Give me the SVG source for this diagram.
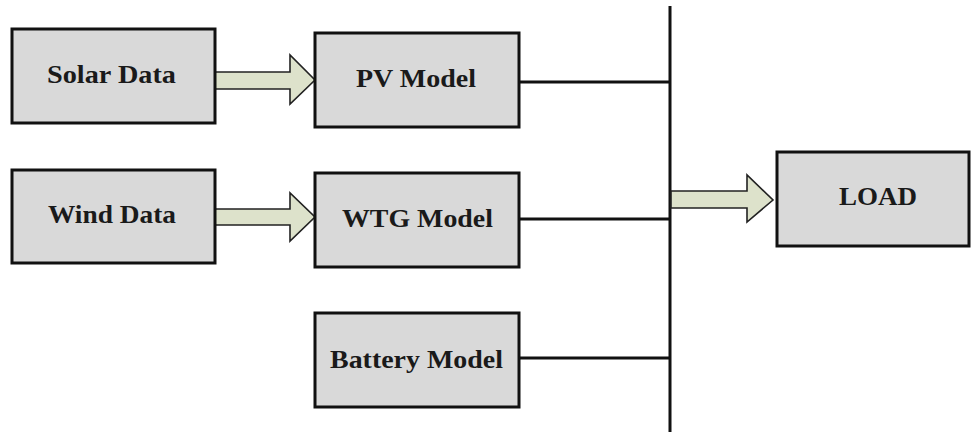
<svg xmlns="http://www.w3.org/2000/svg" width="971" height="432" viewBox="0 0 971 432">
<style>
.box{fill:#d9d9d9;stroke:#111;stroke-width:3}
.lbl{font-family:"Liberation Serif","Times New Roman",serif;font-weight:bold;font-size:26px;fill:#1a1a1a}
.arr{fill:#dde2cb;stroke:#222;stroke-width:1.6;stroke-linejoin:miter}
.wire{stroke:#111;stroke-width:3;fill:none}
</style>
<rect width="971" height="432" fill="#fff"/>
<g id="connectors">
<line class="wire" x1="670" y1="6" x2="670" y2="432"/>
<line class="wire" x1="519" y1="82" x2="670" y2="82"/>
<line class="wire" x1="519" y1="219" x2="670" y2="219"/>
<line class="wire" x1="519" y1="358" x2="670" y2="358"/>
<polygon class="arr" points="215,72 290,72 290,55 315,80 290,104 290,89 215,89"/>
<polygon class="arr" points="215,209 290,209 290,193 315,217 290,241 290,225 215,225"/>
<polygon class="arr" points="671,191 747,191 747,175 773,200 747,222 747,208 671,208"/>
</g>
<g id="solar"><rect class="box" x="12" y="29" width="203" height="94"/><text class="lbl" x="47" y="83" textLength="129" lengthAdjust="spacingAndGlyphs">Solar Data</text></g>
<g id="wind"><rect class="box" x="12" y="170" width="203" height="93"/><text class="lbl" x="48" y="223" textLength="128" lengthAdjust="spacingAndGlyphs">Wind Data</text></g>
<g id="pv"><rect class="box" x="315" y="33" width="204" height="94"/><text class="lbl" x="356" y="87" textLength="120" lengthAdjust="spacingAndGlyphs">PV Model</text></g>
<g id="wtg"><rect class="box" x="315" y="173" width="204" height="94"/><text class="lbl" x="342" y="227" textLength="151" lengthAdjust="spacingAndGlyphs">WTG Model</text></g>
<g id="battery"><rect class="box" x="315" y="313" width="204" height="94"/><text class="lbl" x="330" y="368" textLength="173" lengthAdjust="spacingAndGlyphs">Battery Model</text></g>
<g id="load"><rect class="box" x="777" y="152" width="192" height="94"/><text class="lbl" x="839" y="205" textLength="78" lengthAdjust="spacingAndGlyphs">LOAD</text></g>
</svg>
